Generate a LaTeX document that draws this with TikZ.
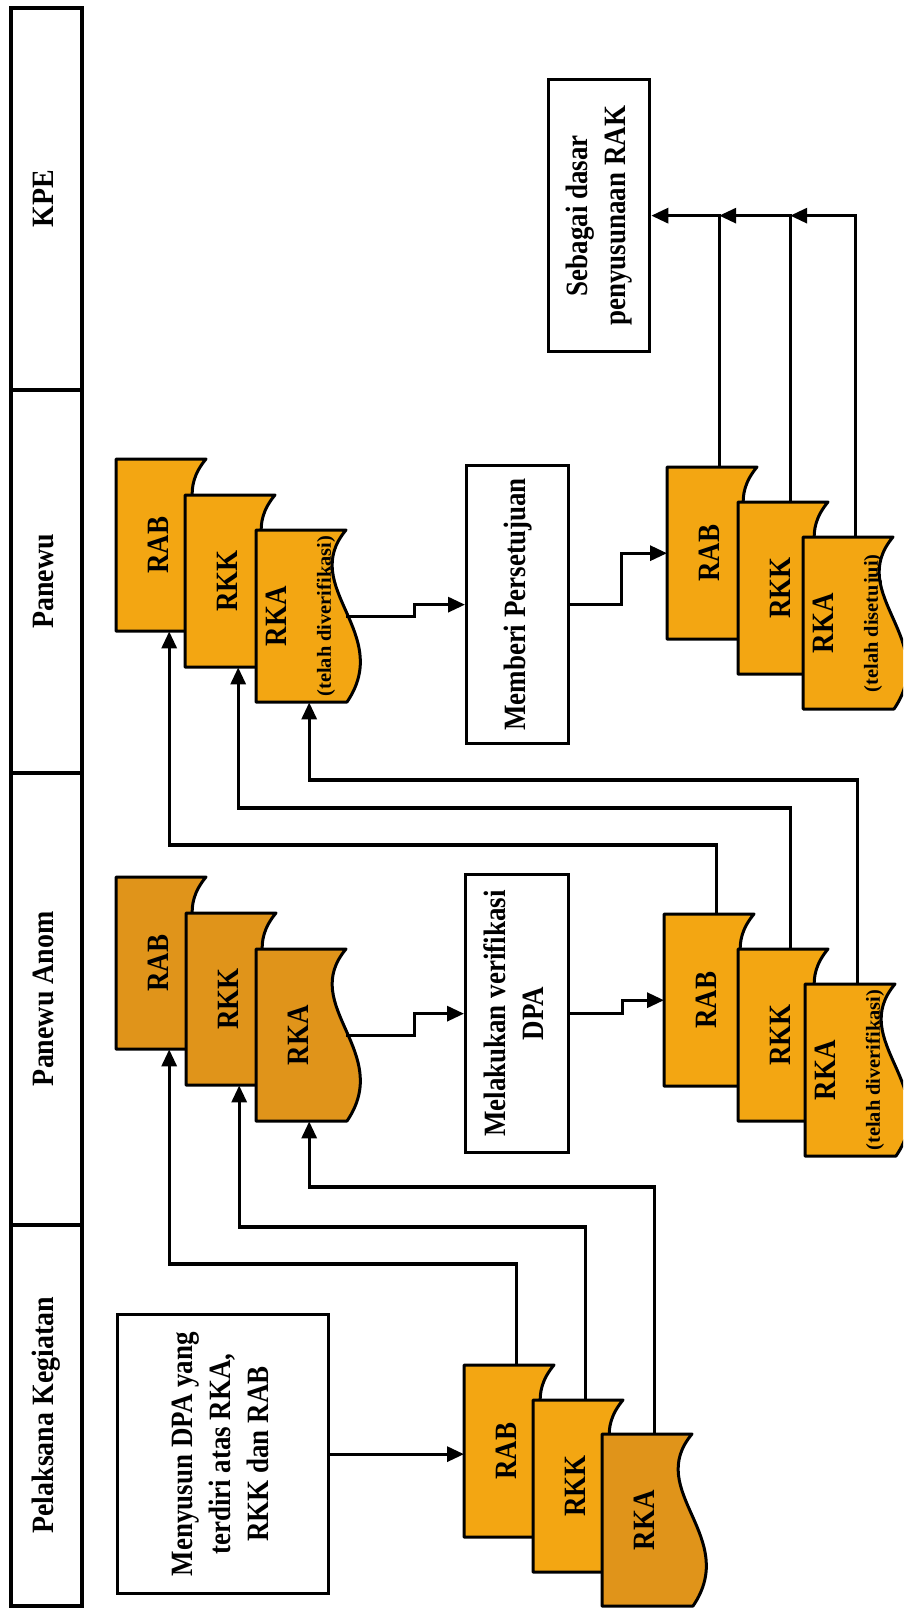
\documentclass[tikz,border=0pt]{standalone}
\usepackage{fontspec}
\setmainfont{Liberation Serif}
\usepackage{graphicx}
\usetikzlibrary{arrows.meta,calc}

\definecolor{docfill}{RGB}{243,166,18}
\definecolor{docdark}{RGB}{224,148,26}

% vertical (rotated) multi-line text
\newcommand\rot[1]{\rotatebox{90}{\begin{tabular}{@{}c@{}}#1\end{tabular}}}
\newcommand\nar[1]{\scalebox{0.87}[1]{#1}}
\newcommand\wid[1]{\scalebox{0.9}[1]{#1}}
\newcommand\sml[1]{{\fontsize{20pt}{22pt}\selectfont\scalebox{1.02}[1]{#1}}}

% document symbol: name, x, y (top-left), fill colour, text
\newcommand\docu[5]{%
  \filldraw[docline, fill=#4] (#2,#3) -- ({#2+90},#3)
    .. controls ({#2+42},{#3+57}) and ({#2+138},{#3+103}) .. ({#2+91},{#3+172})
    -- (#2,{#3+172}) -- cycle;
  \node[docnode, anchor=north west] (#1) at (#2,#3) {\rot{#5}};
}

\tikzset{
  txt/.style={font=\fontsize{31pt}{38pt}\selectfont\bfseries},
  docline/.style={line width=3pt, line join=round},
  docnode/.style={txt, rectangle, inner sep=0pt, minimum width=90pt, minimum height=172pt},
  lane/.style={txt, draw, line width=3.6pt, rectangle, inner sep=0pt, minimum width=71pt, anchor=north west},
  box/.style={txt, draw, line width=3.3pt, rectangle, inner sep=0pt, fill=white, anchor=north west},
  arr/.style={line width=3.2pt, -{Triangle[length=17pt,width=15pt]}},
}

\begin{document}
\begin{tikzpicture}[x=1pt, y=-1pt]
\useasboundingbox (0,0) rectangle (903,1609);
\clip (0,0) rectangle (903,1609);
\fill[white] (0,0) rectangle (903,1609);

% swimlane headers
\node[lane, minimum height=382pt] (kpe) at (9,6) {\rot{\wid{KPE}}};
\node[lane, minimum height=383pt] (panewu) at (9,388) {\rot{\wid{Panewu}}};
\node[lane, minimum height=452pt] (anom) at (9,771) {\rot{\wid{Panewu Anom}}};
\node[lane, minimum height=381pt] (pelaksana) at (9,1223) {\rot{\wid{Pelaksana Kegiatan}}};

% process boxes
\node[box, minimum width=101pt, minimum height=272pt] (sebagai) at (547,78)
  {\rot{\nar{Sebagai dasar}\\ \nar{penyusunaan RAK}}};
\node[box, minimum width=102pt, minimum height=278pt] (memberi) at (465,464)
  {\rot{\nar{Memberi Persetujuan}}};
\node[box, minimum width=103pt, minimum height=278pt] (melakukan) at (464,873)
  {\rot{\nar{Melakukan verifikasi}\\ \nar{DPA}}};
\node[box, minimum width=211pt, minimum height=279pt] (menyusun) at (116,1313)
  {\rot{\nar{Menyusun DPA yang}\\ \nar{terdiri atas RKA,}\\ \nar{RKK dan RAB}}};

% documents: Pelaksana Kegiatan
\docu{g5rab}{464}{1365}{docfill}{\nar{RAB}}
\docu{g5rkk}{533}{1400}{docfill}{\nar{RKK}}
\docu{g5rka}{602}{1434}{docdark}{\nar{RKA}}

% documents: Panewu Anom
\docu{g1rab}{116}{877}{docdark}{\nar{RAB}}
\docu{g1rkk}{186}{913}{docdark}{\nar{RKK}}
\docu{g1rka}{256}{949}{docdark}{\nar{RKA}}

\docu{g3rab}{664}{914}{docfill}{\nar{RAB}}
\docu{g3rkk}{738}{949}{docfill}{\nar{RKK}}
\docu{g3rka}{805}{984}{docfill}{\nar{RKA}\\[6pt] \sml{(telah diverifikasi)}}

% documents: Panewu
\docu{g2rab}{116}{459}{docfill}{\nar{RAB}}
\docu{g2rkk}{185}{495}{docfill}{\nar{RKK}}
\docu{g2rka}{256}{530}{docfill}{\nar{RKA}\\[6pt] \sml{(telah diverifikasi)}}

\docu{g4rab}{667}{467}{docfill}{\nar{RAB}}
\docu{g4rkk}{738}{502}{docfill}{\nar{RKK}}
\docu{g4rka}{803}{537}{docfill}{\nar{RKA}\\[6pt] \sml{(telah disetujui)}}

% flow: Pelaksana Kegiatan -> Panewu Anom
\draw[arr] (menyusun.east) -- (menyusun.east -| g5rab.west);
\draw[arr] ($(g5rab.north)+(7,0)$) -- ++(0,-101) -| ($(g1rab.south)+(8,0)$);
\draw[arr] ($(g5rkk.north)+(7,0)$) -- ++(0,-173) -| ($(g1rkk.south)+(8,0)$);
\draw[arr] ($(g5rka.north)+(7,0)$) -- ++(0,-247) -| ($(g1rka.south)+(8,0)$);

% flow: verification
\draw[arr] (g1rka.east) -- ++(68,0) |- (melakukan.west);
\draw[arr] (melakukan.east) -- ++(52,0) |- (g3rab.west);

% flow: Panewu Anom -> Panewu
\draw[arr] ($(g3rab.north)+(7,0)$) -- ++(0,-69) -| ($(g2rab.south)+(8,0)$);
\draw[arr] ($(g3rkk.north)+(7,0)$) -- ++(0,-141) -| ($(g2rkk.south)+(8,0)$);
\draw[arr] ($(g3rka.north)+(7,0)$) -- ++(0,-204) -| ($(g2rka.south)+(8,0)$);

% flow: approval
\draw[arr] (g2rka.east) -- ++(68,0) |- (memberi.west);
\draw[arr] (memberi.east) -- ++(51,0) |- (g4rab.west);

% flow: Panewu -> KPE
\coordinate (g4rabtop) at ($(g4rab.north)+(7,0)$);
\coordinate (g4rkktop) at ($(g4rkk.north)+(7,0)$);
\coordinate (g4rkatop) at ($(g4rka.north)+(7,0)$);
\coordinate (j1) at (g4rabtop |- sebagai.east);
\coordinate (j2) at (g4rkktop |- sebagai.east);
\draw[arr] (g4rabtop) |- (sebagai.east);
\draw[arr] (g4rkktop) |- (j1);
\draw[arr] (g4rkatop) |- (j2);
\end{tikzpicture}
\end{document}
